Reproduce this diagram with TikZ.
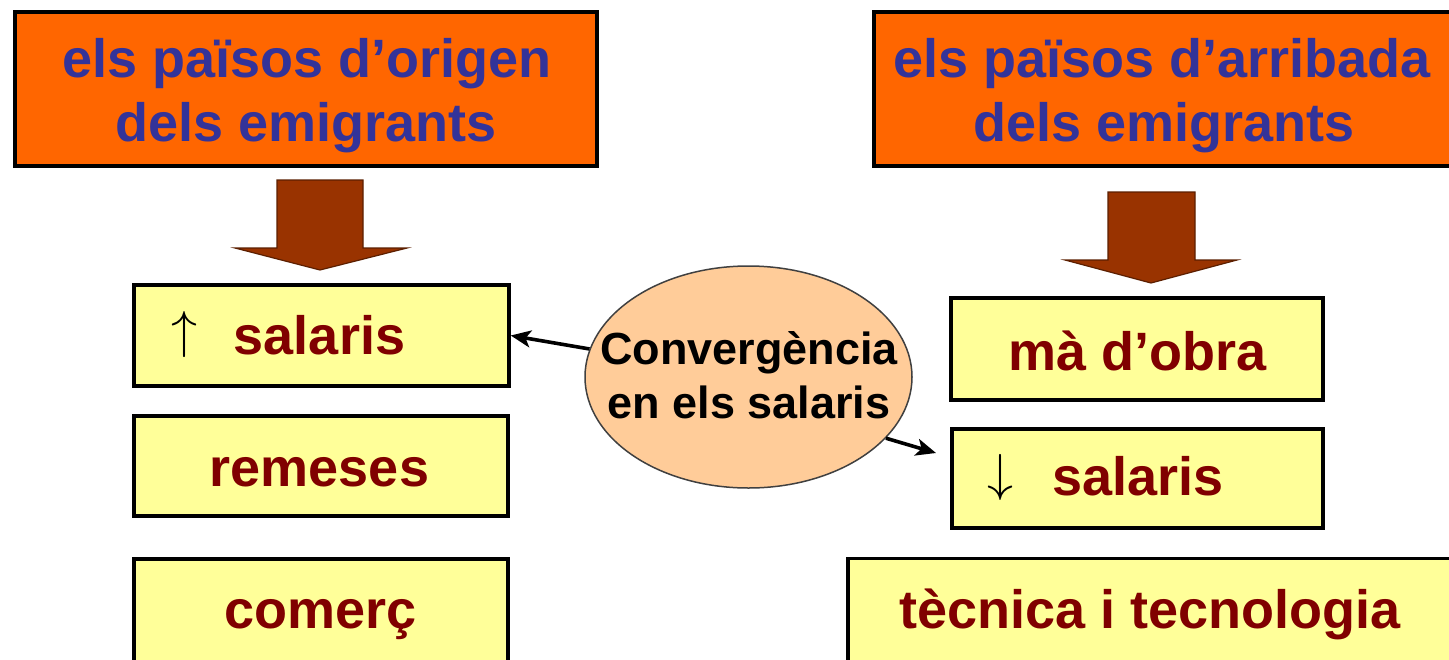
\documentclass[tikz,border=0pt]{standalone}
\usepackage{fontspec}
\setmainfont{Liberation Sans}
\usetikzlibrary{arrows.meta,shapes.geometric}
\definecolor{orng}{HTML}{FF6600}
\definecolor{titleblue}{HTML}{333399}
\definecolor{boxyellow}{HTML}{FFFF99}
\definecolor{darkred}{HTML}{800000}
\definecolor{peach}{HTML}{FFCC99}
\definecolor{brownarrow}{HTML}{993300}
\tikzset{
  obox/.style={draw=black, line width=4pt, fill=orng, rectangle, inner sep=0pt},
  ybox/.style={draw=black, line width=3.5pt, fill=boxyellow, rectangle, inner sep=0pt},
  ttxt/.style={anchor=base, inner sep=0pt, text=titleblue, font=\fontsize{54}{64}\selectfont\bfseries},
  ytxt/.style={anchor=base, inner sep=0pt, text=darkred, font=\fontsize{54}{64}\selectfont\bfseries},
  etxt/.style={anchor=base, inner sep=0pt, text=black, font=\fontsize{45}{51}\selectfont\bfseries},
  sym/.style={inner sep=0pt, scale=5.2},
  blockarrow/.style={fill=brownarrow, draw=brownarrow!60!black, line width=1.2pt, line join=miter},
  conn/.style={draw=black, line width=3.6pt, -{Stealth[length=20pt,width=17pt,inset=5pt]}}
}
\begin{document}
\begin{tikzpicture}[x=1pt,y=-1pt]
\useasboundingbox (0,0) rectangle (1449,659);
\clip (0,0) rectangle (1449,659);
\fill[white] (0,0) rectangle (1449,659);

% title boxes
\node[obox, minimum width=582pt, minimum height=154pt] (o1) at (305.5,88.5) {};
\node[obox, minimum width=648pt, minimum height=154pt] (o2) at (1198,88.5) {};
\node[ttxt] (o1a) at (307,77) {els països d’origen};
\node[ttxt] (o1b) at (306,141) {dels emigrants};
\node[ttxt] (o2a) at (1162,77) {els països d’arribada};
\node[ttxt] (o2b) at (1164,141) {dels emigrants};

% block arrows
\draw[blockarrow] (277,180) -- (363,180) -- (363,248) -- (407,248) -- (320,270) -- (235,248) -- (277,248) -- cycle;
\draw[blockarrow] (1108,192) -- (1195,192) -- (1195,260) -- (1237,260) -- (1151,283) -- (1065,260) -- (1108,260) -- cycle;

% left column
\node[ybox, minimum width=375pt, minimum height=101pt] (b1) at (321.5,335.5) {};
\node[sym] (up) at (184.5,334.5) {$\uparrow$};
\node[ytxt] (b1t) at (319.5,354) {salaris};
\node[ybox, minimum width=374pt, minimum height=100pt] (b2) at (321,466) {};
\node[ytxt] (b2t) at (319.5,486) {remeses};
\node[ybox, minimum width=374pt, minimum height=201pt] (b3) at (321,659.5) {};
\node[ytxt] (b3t) at (320.5,628) {comerç};

% right column
\node[ybox, minimum width=372pt, minimum height=102pt] (b4) at (1137,349) {};
\node[ytxt] (b4t) at (1137.5,370) {mà d’obra};
\node[ybox, minimum width=371pt, minimum height=99pt] (b5) at (1137.5,478.5) {};
\node[sym] (down) at (1000.5,477) {$\downarrow$};
\node[ytxt] (b5t) at (1138,495) {salaris};
\node[ybox, minimum width=672pt, minimum height=201pt] (b6) at (1184,659) {};
\node[ytxt] (b6t) at (1150,628) {tècnica i tecnologia};

% centre ellipse and connectors
\coordinate (rt) at (936,453);
\node[ellipse, draw=black!75, line width=1.5pt, fill=peach, minimum width=327pt, minimum height=222pt, inner sep=0pt] (ell) at (748.5,377) {};
\draw[conn] (ell.170) -- (b1.east);
\draw[conn] (ell.336) -- (rt);
\node[etxt] (e1) at (749,364) {Convergència};
\node[etxt] (e2) at (749,418) {en els salaris};
\end{tikzpicture}
\end{document}
